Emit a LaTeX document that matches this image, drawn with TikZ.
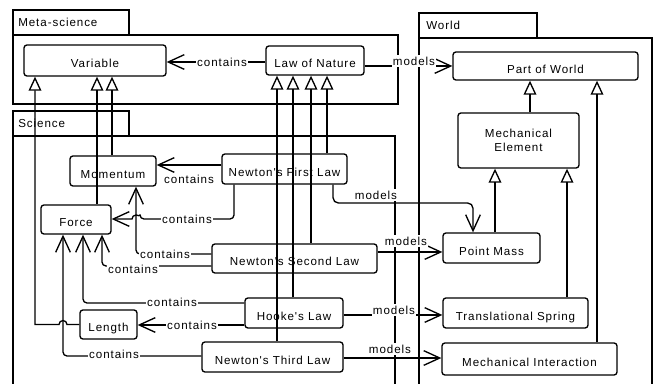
\documentclass[tikz,border=0pt]{standalone}
\usepackage{fontspec}
\setmainfont{Liberation Sans}
\newfontfamily\dfont[LetterSpace=8]{Liberation Sans}
\usetikzlibrary{arrows.meta}
\tikzset{
  ln/.style={line width=1pt},
  cls/.style={draw, line width=1pt, rounded corners=2.2pt, inner sep=0pt, align=center, fill=white, text height=11pt, text depth=0pt},
  cls2/.style={draw, line width=1pt, rounded corners=2.2pt, inner sep=0pt, align=center, fill=white},
  gen/.style={ln, -{Triangle[open,length=10.5pt,width=9.5pt]}},
  opn/.style={ln, -{Straight Barb[length=12pt,width=11pt]}},
  lbl/.style={fill=white, inner sep=1pt},
  tab/.style={anchor=west, inner sep=0pt}
}
\begin{document}
\begin{tikzpicture}[x=0.75pt,y=-0.75pt,
  every node/.style={font=\dfont\fontsize{8.7}{10.5}\selectfont}]
\useasboundingbox (0,0) rectangle (656,384);
% frames
\draw[ln] (13,10) rectangle (129,35);
\draw[ln] (13,35) rectangle (398,104);
\node[tab] (tmeta) at (18,22) {Meta-science};
\draw[ln] (13,111) rectangle (129,136);
\draw[ln] (13,384) -- (13,136) -- (395,136) -- (395,384);
\node[tab] (tsci) at (18,123) {Science};
\draw[ln] (419,13) rectangle (537,38);
\draw[ln] (419,384) -- (419,38) -- (652,38) -- (652,384);
\node[tab] (tworld) at (426,25) {World};

% classes
\node[cls, minimum width=106.5pt, minimum height=23.25pt] (var) at (95,60.5) {Variable};
\node[cls, minimum width=73.5pt, minimum height=21.75pt] (lon) at (315,60.5) {Law of Nature};
\node[cls, minimum width=138.75pt, minimum height=21pt] (pow) at (545.5,66) {Part of World};
\node[cls2, minimum width=90.75pt, minimum height=41.25pt] (mel) at (518.5,140.5) {Mechanical\\Element};
\node[cls, minimum width=64.5pt, minimum height=22.5pt] (mom) at (113,171) {Momentum};
\node[cls, minimum width=93.75pt, minimum height=22.5pt] (nfl) at (284.5,169) {Newton's First Law};
\node[cls, minimum width=52.5pt, minimum height=21.75pt] (force) at (76,219.5) {Force};
\node[cls, minimum width=123.75pt, minimum height=21.75pt] (nsl) at (294.5,258.5) {Newton's Second Law};
\node[cls, minimum width=72.75pt, minimum height=22.5pt] (pm) at (491.5,248) {Point Mass};
\node[cls, minimum width=73.5pt, minimum height=22.5pt] (hooke) at (294,313) {Hooke's Law};
\node[cls, minimum width=42.75pt, minimum height=21.75pt] (length) at (108.5,324.5) {Length};
\node[cls, minimum width=105.75pt, minimum height=22.5pt] (ntl) at (272.5,357) {Newton's Third Law};
\node[cls, minimum width=108.75pt, minimum height=22.5pt] (ts) at (515.5,313) {Translational Spring};
\node[cls, minimum width=131.25pt, minimum height=24pt] (mi) at (529.5,359) {Mechanical Interaction};

% generalizations
\draw[gen] (length.west) -- (67,324.5) arc[start angle=0,end angle=-180,radius=4] -- (35,324.5) -- (var.south -| 35,0);
\draw[gen] (force.north -| 97,0) -- (var.south -| 97,0);
\draw[gen] (mom.north -| 112,0) -- (var.south -| 112,0);
\draw[gen] (nfl.north -| 327,0) -- (lon.south -| 327,0);
\draw[gen] (nsl.north -| 311,0) -- (lon.south -| 311,0);
\draw[gen] (hooke.north -| 293,0) -- (lon.south -| 293,0);
\draw[gen] (ntl.north -| 277,0) -- (lon.south -| 277,0);
\draw[gen] (mel.north -| 530,0) -- (pow.south -| 530,0);
\draw[gen] (mi.north -| 597,0) -- (pow.south -| 597,0);
\draw[gen] (pm.north -| 495,0) -- (mel.south -| 495,0);
\draw[gen] (ts.north -| 567,0) -- (mel.south -| 567,0);

% contains
\draw[opn] (lon.west |- 0,62) -- (var.east |- 0,62);
\node[lbl] (c1) at (222,62) {contains};
\draw[opn] (nfl.west |- 0,165) -- (mom.east |- 0,165);
\node[lbl] (c2) at (189,179) {contains};
\draw[opn] (nfl.south -| 234,0) [rounded corners=3pt] -- (234,219) -- (140,219) [sharp corners] arc[start angle=0,end angle=-180,radius=4] -- (force.east |- 0,219);
\node[lbl] (c3) at (187,219) {contains};
\draw[opn] (nsl.west |- 0,254) [rounded corners=3pt] -- (136,254) -- (mom.south -| 136,0);
\node[lbl] (c4) at (165,254) {contains};
\draw[opn] (nsl.west |- 0,266) [rounded corners=3pt] -- (102,266) -- (force.south -| 102,0);
\node[lbl] (c5) at (133,269) {contains};
\draw[opn] (hooke.west |- 0,303) [rounded corners=3pt] -- (83,303) -- (force.south -| 83,0);
\node[lbl] (c6) at (172,302) {contains};
\draw[opn] (hooke.west |- 0,325) -- (length.east |- 0,325);
\node[lbl] (c7) at (192,325) {contains};
\draw[opn] (ntl.west |- 0,356) [rounded corners=3pt] -- (63,356) -- (force.south -| 63,0);
\node[lbl] (c8) at (114,354) {contains};

% models
\draw[opn] (lon.east |- 0,66) -- (pow.west |- 0,66);
\node[lbl] (m1) at (414,61) {models};
\draw[opn] (nfl.south -| 333,0) [rounded corners=4pt] -- (333,203) -- (473,203) -- (pm.north -| 473,0);
\node[lbl] (m2) at (376,195) {models};
\draw[opn] (nsl.east |- 0,252) -- (pm.west |- 0,252);
\node[lbl] (m3) at (406,241) {models};
\draw[opn] (hooke.east |- 0,315) -- (ts.west |- 0,315);
\node[lbl] (m4) at (394,310) {models};
\draw[opn] (ntl.east |- 0,358) -- (mi.west |- 0,358);
\node[lbl] (m5) at (390,349) {models};
\end{tikzpicture}
\end{document}
